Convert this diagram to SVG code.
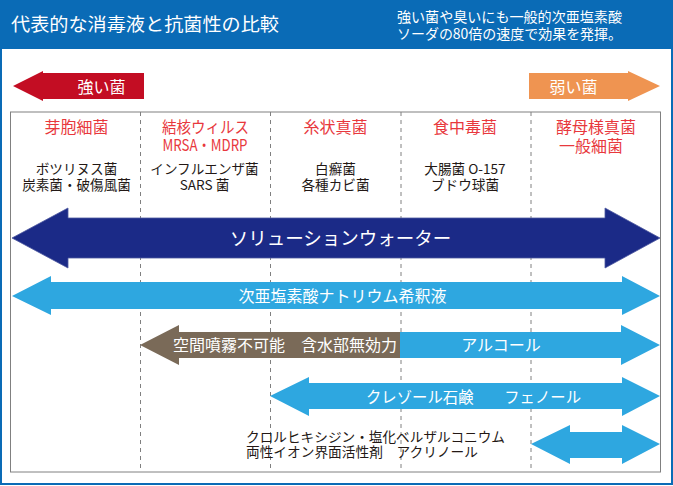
<svg xmlns="http://www.w3.org/2000/svg" width="673" height="486" viewBox="0 0 673 486">
<style>
text{font-family:"Noto Sans CJK JP","Noto Sans",sans-serif;}
.w{fill:#ffffff;}
.k{fill:#231815;font-size:13.6px;text-anchor:middle;}
.r{fill:#e8383d;font-size:16px;text-anchor:middle;}
.dash{stroke:#808080;stroke-width:1;stroke-dasharray:4 4;fill:none;}
.mid{text-anchor:middle;}
</style>
<rect x="0" y="0" width="673" height="486" fill="#ffffff"/>
<rect x="1" y="1" width="671" height="483" fill="none" stroke="#0a6bb6" stroke-width="2"/>
<g id="header">
<rect x="0" y="0" width="673" height="49" fill="#0a6bb6"/>
<text class="w" x="11" y="31" font-size="18.5" textLength="268" lengthAdjust="spacingAndGlyphs">代表的な消毒液と抗菌性の比較</text>
<text class="w" x="397" y="22" font-size="14" textLength="225" lengthAdjust="spacingAndGlyphs">強い菌や臭いにも一般的次亜塩素酸</text>
<text class="w" x="397" y="38.5" font-size="14" textLength="225" lengthAdjust="spacingAndGlyphs">ソーダの80倍の速度で効果を発揮。</text>
</g>
<g id="strong">
<polygon points="13,86 43,71 43,73 144,73 144,99 43,99 43,101" fill="#c30d23"/>
<text class="w mid" x="101.5" y="93" font-size="16">強い菌</text>
</g>
<g id="weak">
<polygon points="529,73 628,73 628,71 660,86 628,101 628,99 529,99" fill="#ef9451"/>
<text class="w mid" x="573.5" y="93" font-size="16">弱い菌</text>
</g>
<g id="table">
<rect x="10.5" y="112" width="650" height="360" fill="none" stroke="#808080" stroke-width="1"/>
<line class="dash" x1="140.5" y1="112" x2="140.5" y2="472"/>
<line class="dash" x1="270.5" y1="112" x2="270.5" y2="472"/>
<line class="dash" x1="401" y1="112" x2="401" y2="472"/>
<line class="dash" x1="531" y1="112" x2="531" y2="472"/>
</g>
<g id="col1">
<text class="r" x="76.5" y="132.5">芽胞細菌</text>
<text class="k" x="76.5" y="174">ボツリヌス菌</text>
<text class="k" x="76.5" y="190">炭素菌・破傷風菌</text>
</g>
<g id="col2">
<text class="r" x="205.5" y="132.5" font-size="15.5" textLength="87" lengthAdjust="spacingAndGlyphs">結核ウィルス</text>
<text class="r" x="205" y="150.5" font-size="13.5" textLength="85" lengthAdjust="spacingAndGlyphs">MRSA・MDRP</text>
<text class="k" x="204.5" y="174">インフルエンザ菌</text>
<text class="k" x="204.5" y="190">SARS 菌</text>
</g>
<g id="col3">
<text class="r" x="335.5" y="132.5">糸状真菌</text>
<text class="k" x="335.5" y="174">白癬菌</text>
<text class="k" x="335.5" y="190">各種カビ菌</text>
</g>
<g id="col4">
<text class="r" x="465" y="132.5">食中毒菌</text>
<text class="k" x="465" y="174">大腸菌 O-157</text>
<text class="k" x="465" y="190">ブドウ球菌</text>
</g>
<g id="col5">
<text class="r" x="596" y="132.5">酵母様真菌</text>
<text class="r" x="591" y="152">一般細菌</text>
</g>
<g id="connectors">
<g id="solution-water">
<polygon points="12,238 68,208 68,218 605,218 605,208 660,238 605,268 605,258 68,258 68,268" fill="#1b2a87" stroke="#4c58a0" stroke-width="0.8"/>
<text class="w mid" x="340.5" y="245" font-size="18.5">ソリューションウォーター</text>
</g>
<g id="hypochlorite">
<polygon points="12,296 51,276 51,282 622,282 622,276 660,296 622,315 622,309 51,309 51,315" fill="#2ea7e0"/>
<text class="w mid" x="342.5" y="302" font-size="16">次亜塩素酸ナトリウム希釈液</text>
</g>
<g id="alcohol">
<polygon points="140,345 179,325 179,332 400,332 400,358 179,358 179,365" fill="#7a6a58"/>
<polygon points="400,332 621,332 621,325 660,345 621,365 621,358 400,358" fill="#2ea7e0"/>
<text class="w mid" x="285" y="351" font-size="16">空間噴霧不可能　含水部無効力</text>
<text class="w mid" x="501" y="351" font-size="16">アルコール</text>
</g>
<g id="cresol">
<polygon points="270,396 309,377 309,383 622,383 622,377 660,396 622,416 622,409 309,409 309,416" fill="#2ea7e0"/>
<text class="w mid" x="473.5" y="403" font-size="15.5" textLength="215" lengthAdjust="spacingAndGlyphs">クレゾール石鹸　　フェノール</text>
</g>
<g id="chlorhexidine">
<polygon points="531,444 570,425 570,432 622,432 622,425 660,444 622,464 622,458 570,458 570,464" fill="#2ea7e0"/>
</g>
</g>
<g id="chlorhexidine-label">
<text x="246" y="442" font-size="13.2" fill="#231815" textLength="259" lengthAdjust="spacingAndGlyphs">クロルヒキシジン・塩化ベルザルコニウム</text>
<text x="246" y="456.5" font-size="13.2" fill="#231815" textLength="232" lengthAdjust="spacingAndGlyphs">両性イオン界面活性剤　アクリノール</text>
</g>
</svg>
